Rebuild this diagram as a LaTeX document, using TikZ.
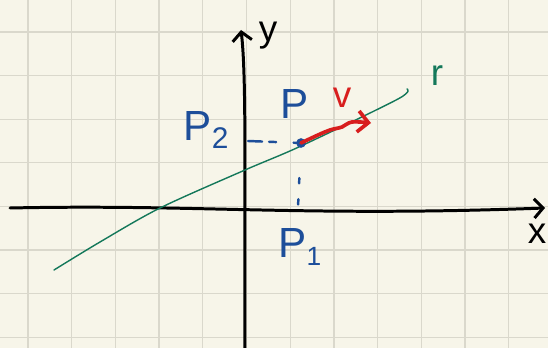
\documentclass[tikz,border=0pt]{standalone}
\usepackage{fontspec}
\setmainfont{Liberation Sans}
\usetikzlibrary{arrows.meta}
\definecolor{paper}{HTML}{F7F5E9}
\definecolor{gridgray}{HTML}{DAD8CC}
\definecolor{penblue}{HTML}{1D4E9A}
\definecolor{pengreen}{HTML}{14785A}
\definecolor{penred}{HTML}{D81E1E}

\begin{document}
\begin{tikzpicture}[
        x=0.02cm, y=-0.02cm,
        gridline/.style={
            draw=gridgray,
            line width=0.7pt
        },
        axis/.style={
            draw=black,
            line width=1.7pt,
            line cap=round,
            -{Straight Barb[length=5pt, width=11pt]}
        },
        guide/.style={
            draw=penblue,
            line width=1.4pt,
            line cap=round
        },
        vec/.style={
            draw=penred,
            line width=2.1pt,
            line cap=round,
            -{Straight Barb[length=6pt, width=12pt]}
        },
        rline/.style={
            draw=pengreen,
            line width=0.8pt,
            line cap=round
        },
        lbl/.style={
            inner sep=0pt,
            font=\fontsize{24}{24}\selectfont
        },
        small/.style={
            inner sep=0pt,
            font=\fontsize{21}{21}\selectfont
        },
        dot/.style={
            circle,
            fill=penblue,
            inner sep=0pt,
            minimum size=5.5pt
        }
    ]
        \useasboundingbox (0,0) rectangle (548,348);
        \fill[paper] (0,0) rectangle (548,348);
        \foreach \i in {0,...,11}
            \draw[gridline] ({28+43.7*\i},0) -- ++(0,348);
        \foreach \j in {0,...,7}
            \draw[gridline] (0,{32+43.6*\j}) -- ++(548,0);

        \coordinate (xleft) at (10,208);
        \coordinate (xright) at (545,208);
        \coordinate (ybot) at (245,350);
        \coordinate (ytop) at (241,30);
        \draw[axis] (xleft) .. controls (200,204) and (300,217) .. (xright);
        \draw[axis] (ybot) .. controls (244,200) and (247,80) .. (ytop);

        \draw[rline] plot[smooth] coordinates {(54,270) (100,242) (160,208) (245,170) (301,146) (398,99) (407,89)};

        \node (P) [dot] at (301,143) {};
        \coordinate (P2foot) at (248,141);
        \coordinate (P1foot) at (298,207);
        \draw[guide, dash pattern=on 8pt off 4pt on 4pt off 10pt on 3pt off 10pt] (P2foot) -- (P.center);
        \draw[guide, dash pattern=on 0pt off 20pt on 3pt off 9pt on 3pt off 20pt] (P.center) -- (P1foot);

        \coordinate (vtip) at (371,123);
        \draw[vec] plot[smooth, tension=0.6] coordinates {(P.center) (318,135) (330,130) (342,127) (352,122) (vtip)};

        \node (Plab) [lbl, text=penblue] at (295,104) {P};
        \node (P2lab) [lbl, text=penblue] at (206,130) {P\raisebox{-5pt}{\fontsize{17}{17}\selectfont 2}};
        \node (P1lab) [lbl, text=penblue] at (300,247) {P\raisebox{-4pt}{\fontsize{15}{15}\selectfont 1}};
        \node (vlab) [small, text=penred] at (342,98) {v};
        \node (rlab) [small, text=pengreen] at (437,76) {r};
        \node (ylab) [small] at (268,36) {y};
        \node (xlab) [small] at (537,234) {x};
\end{tikzpicture}
\end{document}
